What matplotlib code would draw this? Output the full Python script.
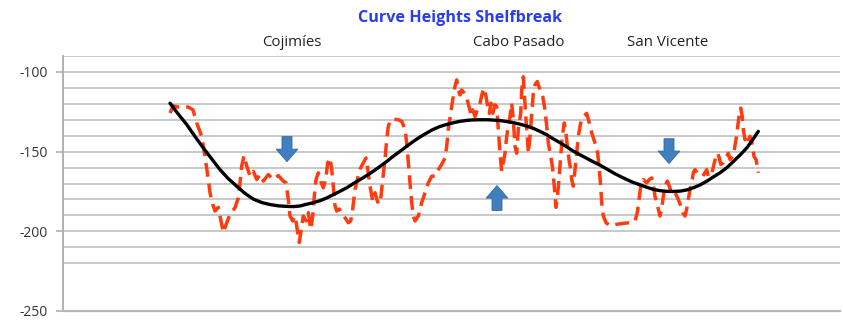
import matplotlib
matplotlib.use("Agg")
import matplotlib.pyplot as plt
import numpy as np

# Along-shelf position and shelf-break height (m), red profile
dist = [170, 173.3, 178, 188, 193, 196.7, 201.7, 205, 208.3, 210, 212.7, 215, 218.3, 220,
        223.3, 226.7, 230, 235, 238.3, 240, 241.7, 244, 246.7, 250, 253.3, 256.7, 260, 263.3,
        268.3, 273.3, 278.3, 283.3, 286, 288.3, 290, 292.7, 295, 296.7, 299.3, 301.7, 303.3,
        306, 308.3, 310.7, 312.7, 314.3, 316, 318.3, 320.7, 323.3, 325.7, 327.7, 330, 331.7,
        333.3, 335, 336.7, 339.3, 341.7, 345, 348.3, 350.7, 352.7, 355, 357.3, 360, 363.3,
        366, 367.7, 370, 372.7, 375, 377.3, 379, 381, 382.7, 385, 386.7, 388.3, 390.7, 393.3,
        398.3, 401.7, 405, 406.7, 408.3, 410, 411.7, 413.3, 415, 418.3, 421.7, 425, 428.3,
        431.7, 435, 438.3, 441.7, 445, 446.7, 448.3, 450.7, 452.7, 455, 456.7, 458.3, 460,
        461.7, 464, 466.7, 469, 471, 472.7, 475, 477.3, 480, 482.3, 484, 486, 487.7, 489.3,
        491, 492.7, 495, 496.7, 498.3, 500, 501.7, 503.3, 505, 506.7, 508.3, 510, 511.7,
        513.3, 515, 516.7, 518.3, 520.7, 521.7, 523.3, 525, 526, 527.3, 528.3, 530, 531.7,
        533.3, 535, 537.3, 540, 542.7, 545, 546.7, 548.3, 550.7, 552.3, 554, 555, 556,
        557.3, 559, 560.7, 562.3, 564.3, 566, 567.3, 569, 570.7, 571.7, 573.3, 575, 576.7,
        578.3, 580.7, 583.3, 586.7, 589.3, 591.7, 595, 597.7, 599.3, 600.7, 601.7, 603.3,
        606, 610, 616.7, 623.3, 630, 635, 637.3, 639, 640.7, 643.3, 646.7, 649.3, 651.7,
        653.3, 655, 656.7, 658.3, 660, 661.7, 663.3, 665, 667.3, 669.3, 671.7, 673.3, 676,
        678.3, 680.7, 682.7, 685, 686.7, 688.3, 690, 691.7, 693.3, 695, 697.3, 700, 702.7,
        705, 706.7, 708.3, 710.7, 712.7, 714.3, 716, 717.7, 719.3, 720.7, 723.3, 726,
        728.3, 730, 732.7, 734.3, 736, 737.3, 739, 740.7, 742.3, 743.3, 745, 746.7, 748.3,
        750, 752.7, 754, 756, 757.3, 758.3]
height = [-125.8, -121.3, -122, -122, -123.8, -132, -140.4, -153, -167.5, -175.8, -183,
          -187.3, -185, -190.4, -200.8, -194.6, -189.4, -185.2, -179, -169.6, -159, -152.5,
          -159, -165.4, -162.3, -167.5, -164.4, -168.5, -164.4, -167.5, -165, -168.5, -169.6,
          -180, -190.4, -193.5, -190.4, -196.7, -207, -196.7, -190.4, -193.5, -188.3, -198.8,
          -190.4, -178, -167.5, -163.3, -168.5, -172.7, -167.5, -157, -154, -161, -171.7,
          -184, -187.3, -186, -188.3, -191.5, -194.6, -193.5, -186, -173.8, -167.5, -161,
          -157, -154, -161, -171.7, -181, -175.8, -181, -183, -178, -167.5, -155, -142.5,
          -134, -130, -129.6, -130, -131, -136, -144.6, -157, -169.6, -182, -190.4, -193.5,
          -190.4, -182, -175.8, -169.6, -165.4, -165.4, -161.3, -158, -154, -146.7, -136,
          -126, -117.5, -109, -105, -111.3, -114.4, -111.3, -113.3, -116.5, -121.7, -127,
          -123.8, -128, -123.8, -119.6, -113.3, -110.2, -115.4, -121.7, -126, -119.6, -126,
          -120.6, -121.7, -136, -151, -162.3, -157, -151, -140.4, -134, -128, -119.6, -130,
          -146.7, -151, -136, -126, -111.3, -103, -119.6, -130, -140.4, -151, -140.4, -126,
          -113.3, -108, -106, -111.3, -115.4, -123.8, -134, -144.6, -153, -159, -169.6,
          -178, -185, -179, -167.5, -153, -140.4, -132, -138.3, -146.7, -155, -161.3,
          -167.5, -171.7, -161.3, -151, -140.4, -132, -128, -126, -132, -138.3, -144.6,
          -151, -161.3, -171.7, -182, -190.4, -194.6, -196.3, -195.6, -195, -194.6, -193.5,
          -188.3, -180, -171.7, -167.5, -169.6, -167.5, -166.5, -170.6, -178, -182, -186,
          -190.4, -186, -178, -171.7, -168.5, -171.7, -175.8, -174.8, -176.9, -180, -184,
          -188.3, -190.4, -186, -180, -173.8, -169.6, -163.3, -161.3, -163.3, -164.4, -165.4,
          -163.3, -161.3, -165.4, -165.4, -161.3, -157, -153, -151, -154, -158, -157, -154,
          -151, -155, -153, -148.8, -142.5, -136, -128, -122.7, -128, -136, -142.5, -140.4,
          -143.5, -140.4, -146.7, -153, -155, -159, -163.3]

# Smoothed trend of the profile (black)
trend_dist = [170, 178, 186.7, 195, 203.3, 212, 220, 228, 236.7, 245, 253.3, 262, 270, 278,
              285, 293.3, 300, 306.7, 313, 320, 327, 333.3, 340, 346.7, 353, 360, 367, 373.3,
              380, 386.7, 393, 400, 407, 413.3, 420, 426.7, 433, 440, 447, 453.3, 460, 466.7,
              473, 480, 487, 493.3, 500, 506.7, 513, 520, 527, 533.3, 540, 546.7, 553, 560,
              567, 573.3, 580, 586.7, 593, 600, 607, 613.3, 620, 626.7, 633, 640, 647, 653.3,
              660, 666.7, 673, 680, 687, 693.3, 700, 706.7, 713, 720, 727, 733.3, 740, 746.7,
              752, 758.3]
trend_height = [-119.6, -126.2, -133, -140.5, -147.7, -154.8, -161.3, -166.8, -171.7, -176.2,
                -179.8, -182, -183.2, -184, -184.3, -184.5, -184.1, -183, -182.1, -180.8,
                -179, -177, -174.9, -172.7, -170.2, -167.6, -164.9, -162.3, -159.3, -156.2,
                -153, -149.8, -146.5, -143.6, -140.8, -138.3, -136.1, -134.2, -132.9, -131.9,
                -131, -130.4, -130.1, -130, -130, -130.2, -130.5, -131.1, -131.8, -132.8,
                -134, -135.4, -137.3, -139.4, -141.9, -144.4, -147.1, -149.7, -152, -154.2,
                -156.3, -158.5, -161, -163.3, -165.5, -167.5, -169.3, -170.8, -172.4, -173.7,
                -174.5, -174.9, -175, -174.8, -174, -172.7, -170.9, -168.6, -166, -163.3,
                -160, -156.2, -152.2, -147.7, -143.2, -137.3]

# Place names along the shelf
place_names = ["Cojimíes", "Cabo Pasado", "San Vicente"]
place_dist = [292, 519, 668]

# Arrows: (position, tail height, tip height)
arrow_dist = [287, 497, 669]
arrow_tail = [-140.6, -186.9, -141.9]
arrow_tip = [-156.3, -171.3, -157.5]

y_ticks = [-250, -200, -150, -100]
y_grid = list(range(-220, -80, 10))

plt.rcParams['font.family'] = ['Open Sans', 'DejaVu Sans']

fig = plt.figure(figsize=(8.43, 3.2), dpi=100)
ax = fig.add_axes([63 / 843, 1 - 311 / 320, (840 - 63) / 843, (311 - 56) / 320])

ax.set_xlim(63, 840)
ax.set_ylim(-250, -90)

for g in y_grid:
    ax.axhline(g, color='#c8c8c8', lw=1.4, zorder=0)

for side in ['top', 'right']:
    ax.spines[side].set_visible(False)
ax.spines['left'].set_color('#b0b0b0')
ax.spines['left'].set_linewidth(1.4)
ax.spines['bottom'].set_color('#b8b8b8')
ax.spines['bottom'].set_linewidth(1.6)

ax.set_xticks([])
ax.set_yticks(y_ticks)
ax.set_yticklabels([str(t) for t in y_ticks])
ax.tick_params(axis='y', length=5, width=1.2, color='#b0b0b0', labelsize=10,
               labelcolor='#333333', pad=6)

ax.plot(dist, height, color='#ff3b0f', lw=2.5, ls=(0, (4, 2)), zorder=2)
ax.plot(trend_dist, trend_height, color='black', lw=2.4, zorder=3,
        solid_joinstyle='round', solid_capstyle='round')

for xd, yt, yh in zip(arrow_dist, arrow_tail, arrow_tip):
    ax.annotate('', xy=(xd, yh), xytext=(xd, yt),
                arrowprops=dict(arrowstyle='simple,head_width=1.3,head_length=0.75,tail_width=0.6',
                                mutation_scale=12, fc='#3f7fc2', ec='#35689e', lw=0.6,
                                shrinkA=0, shrinkB=0), zorder=4)

for name, xd in zip(place_names, place_dist):
    ax.text(xd, 1.025, name, transform=ax.get_xaxis_transform(), ha='center', va='bottom',
            fontsize=10.8, color='#222222')

fig.text(460 / 843, 1 - 18 / 320, "Curve Heights Shelfbreak", ha='center', va='center',
         fontsize=11.6, fontweight='bold', color='#2a3cf0')

fig.savefig('out.png', dpi=100)
